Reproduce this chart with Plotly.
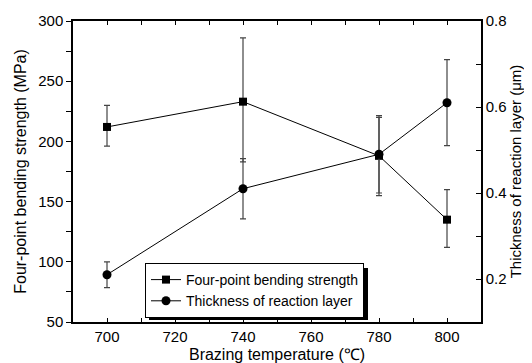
import plotly.graph_objects as go

temps = [700, 740, 780, 800]
strength = [212, 233, 188, 135]
strength_err_plus = [18, 53, 32, 25]
strength_err_minus = [16, 50, 33, 23]
thickness = [0.21, 0.41, 0.49, 0.61]
thick_err_plus = [0.03, 0.07, 0.09, 0.10]
thick_err_minus = [0.03, 0.07, 0.09, 0.10]

FONT = "Arial"

fig = go.Figure()
fig.add_trace(go.Scatter(
    x=temps, y=strength, name="Four-point bending strength",
    mode="lines+markers",
    line=dict(color="black", width=1),
    marker=dict(symbol="square", size=8, color="black"),
    error_y=dict(type="data", array=strength_err_plus, arrayminus=strength_err_minus,
                 color="#444", thickness=1.2, width=3),
))
fig.add_trace(go.Scatter(
    x=temps, y=thickness, name="Thickness of reaction layer",
    mode="lines+markers", yaxis="y2",
    line=dict(color="black", width=1),
    marker=dict(symbol="circle", size=9, color="black"),
    error_y=dict(type="data", array=thick_err_plus, arrayminus=thick_err_minus,
                 color="#444", thickness=1.2, width=3),
))

# page body has an 8px default margin; compensate so the plot lands where the reference has it
OFF = 8
W, H = 532 - OFF, 363 - OFF
L, R, T, B = 73 - OFF, 51, 21 - OFF, 41
pw, ph = W - L - R, H - T - B

# legend placement in plot-area pixels (reference), size used for the drop shadow
leg_left, leg_top, leg_w, leg_h = 145 - 73, 263 - 21, 219, 52
lx0, ly1 = leg_left / pw, 1 - leg_top / ph
lx1, ly0 = (leg_left + leg_w) / pw, 1 - (leg_top + leg_h) / ph
sx, sy = 4 / pw, 5 / ph

fig.update_layout(
    width=W, height=H,
    margin=dict(l=L, r=R, t=T, b=B),
    paper_bgcolor="white", plot_bgcolor="white",
    font=dict(family=FONT, size=15, color="black"),
    showlegend=True,
    legend=dict(x=lx0, y=ly1, xanchor="left", yanchor="top",
                bgcolor="white", bordercolor="black", borderwidth=1,
                font=dict(size=14), itemwidth=30, tracegroupgap=0,
                traceorder="normal"),
    xaxis=dict(range=[690, 810], dtick=20, tick0=700, automargin=False,
               showline=True, linecolor="black", linewidth=1.5,
               ticks="inside", ticklen=4, tickcolor="black", mirror="ticks",
               minor=dict(dtick=10, ticks="inside", ticklen=4, tickcolor="black"),
               showgrid=False, zeroline=False,
               title=dict(text="Brazing temperature (\u2103)", font=dict(size=16), standoff=5)),
    yaxis=dict(range=[50, 300], dtick=50, tick0=50, automargin=False,
               showline=True, linecolor="black", linewidth=1.5,
               ticks="outside", ticklen=5, tickcolor="black",
               minor=dict(dtick=25, ticks="outside", ticklen=5, tickcolor="black"),
               showgrid=False, zeroline=False,
               title=dict(text="Four-point bending strength (MPa)", font=dict(size=16), standoff=8)),
    yaxis2=dict(range=[0.1, 0.8], dtick=0.2, tick0=0.2, overlaying="y", side="right",
                automargin=False,
                showline=True, linecolor="black", linewidth=1.5,
                ticks="inside", ticklen=5, tickcolor="black",
                minor=dict(dtick=0.1, ticks="inside", ticklen=5, tickcolor="black"),
                showgrid=False, zeroline=False, tickformat=".1f",
                title=dict(text="Thickness of reaction layer (\u03bcm)", font=dict(size=15), standoff=4)),
    shapes=[dict(type="rect", xref="paper", yref="paper",
                 x0=lx0 + sx, x1=lx1 + sx, y0=ly0 - sy, y1=ly1 - sy,
                 fillcolor="black", line=dict(width=0), layer="above")],
)

fig.write_html("out.html")
